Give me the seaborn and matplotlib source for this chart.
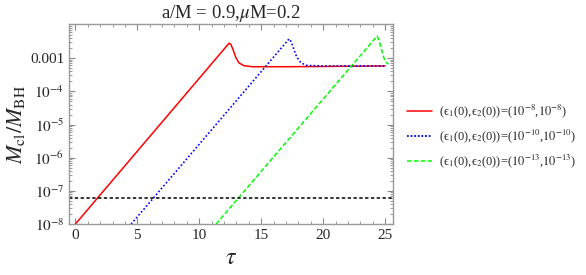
import numpy as np
import pandas as pd
import seaborn as sns
import matplotlib.pyplot as plt
from matplotlib.ticker import LogLocator, MultipleLocator, NullFormatter
from matplotlib.lines import Line2D

# Dados
tau_red = [0.0, 12.4, 12.55, 12.75, 12.95, 13.2, 13.6, 14.3, 17.0, 20.0, 25.0]
m_red = [1e-8, 2.8e-3, 2.6e-3, 1.7e-3, 1.05e-3, 7.2e-4, 5.9e-4, 5.5e-4, 5.5e-4, 5.6e-4, 5.8e-4]

tau_blue = [4.5, 17.25, 17.4, 17.6, 17.85, 18.2, 18.7, 20.0, 25.0]
m_blue = [1e-8, 3.8e-3, 3.2e-3, 2.0e-3, 1.1e-3, 7.2e-4, 6.0e-4, 5.8e-4, 5.8e-4]

tau_green = [11.35, 24.35, 24.5, 24.7, 24.9, 25.1, 25.25]
m_green = [1e-8, 4.6e-3, 3.5e-3, 1.8e-3, 1.0e-3, 7.5e-4, 6.5e-4]

threshold = 6.2e-8

labels = ['(ϵ$_1$(0),ϵ$_2$(0))=($10^{-8}$,$10^{-8}$)',
          '(ϵ$_1$(0),ϵ$_2$(0))=($10^{-10}$,$10^{-10}$)',
          '(ϵ$_1$(0),ϵ$_2$(0))=($10^{-13}$,$10^{-13}$)']

sns.set_style('ticks')
plt.rcParams['font.family'] = ['Liberation Serif', 'DejaVu Serif']
plt.rcParams['mathtext.fontset'] = 'stix'

fig = plt.figure(figsize=(5.86, 2.75), dpi=100)
ax = fig.add_axes([0.118, 0.185, 0.553, 0.728])

df_red = pd.DataFrame({'tau': tau_red, 'm': m_red})
df_blue = pd.DataFrame({'tau': tau_blue, 'm': m_blue})
df_green = pd.DataFrame({'tau': tau_green, 'm': m_green})

sns.lineplot(data=df_red, x='tau', y='m', sort=False, color=(1, 0, 0), lw=1.1, ax=ax)
sns.lineplot(data=df_blue, x='tau', y='m', sort=False, color=(0, 0, 1), lw=1.2,
             linestyle=(0, (1, 1.3)), ax=ax)
sns.lineplot(data=df_green, x='tau', y='m', sort=False, color=(0, 1, 0), lw=1.1,
             linestyle=(0, (3, 1.5)), ax=ax)
ax.axhline(threshold, color='black', lw=1.1, linestyle=(0, (2.2, 1.6)))

ax.set_yscale('log')
ax.set_xlim(-0.5, 25.65)
ax.set_ylim(1e-8, 1.07e-2)

ax.set_yticks([1e-8, 1e-7, 1e-6, 1e-5, 1e-4, 1e-3])
ax.set_yticklabels([r'$10^{-8}$', r'$10^{-7}$', r'$10^{-6}$', r'$10^{-5}$', r'$10^{-4}$', '0.001'])
ax.yaxis.set_minor_locator(LogLocator(base=10, subs=np.arange(2, 10), numticks=20))
ax.yaxis.set_minor_formatter(NullFormatter())
ax.set_xticks([0, 5, 10, 15, 20, 25])
ax.xaxis.set_minor_locator(MultipleLocator(1))

ax.tick_params(which='both', direction='in', top=True, right=True, color='#888888',
               labelsize=11)
ax.tick_params(which='major', length=4)
ax.tick_params(which='minor', length=2)
for s in ax.spines.values():
    s.set_color('#999999')
    s.set_linewidth(1.0)

ax.set_xlabel(r'$\tau$', fontsize=17, labelpad=4)
ax.set_ylabel(r'$M_{\rm cl}/M_{\rm BH}$', fontsize=16, labelpad=2)
ax.set_title(r'a/M = 0.9,$\mu$M=0.2', fontsize=13.5, pad=4)

handles = [Line2D([], [], color=(1, 0, 0), lw=1.1),
           Line2D([], [], color=(0, 0, 1), lw=1.3, linestyle=(0, (1, 1))),
           Line2D([], [], color=(0, 1, 0), lw=1.1, linestyle=(0, (3, 1.5)))]
fig.legend(handles, labels, loc='center left', bbox_to_anchor=(0.678, 0.503),
           frameon=False, fontsize=9, handlelength=2.0, handletextpad=0.5,
           labelspacing=0.6, borderpad=0.3)

fig.savefig('out.png', dpi=100)
plt.close(fig)
